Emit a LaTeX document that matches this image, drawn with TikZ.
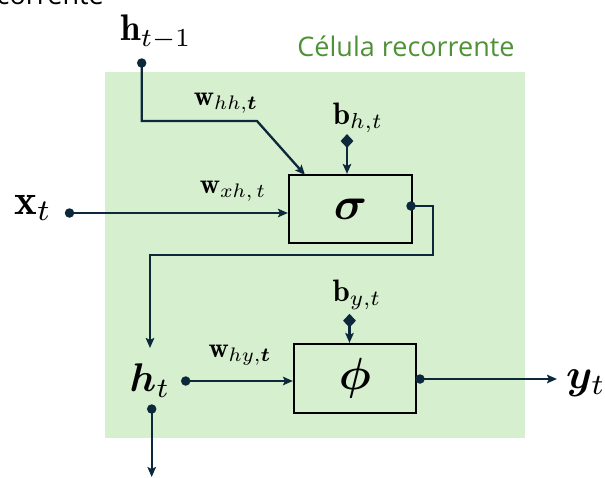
\documentclass[tikz,border=0pt]{standalone}
\usepackage{graphicx}
\usepackage{amsmath,bm}
\usepackage{fontspec}
\usetikzlibrary{arrows.meta,shapes.geometric}
\newfontfamily\titlefont{Open Sans}
\definecolor{ln}{RGB}{12,40,58}
\definecolor{cellg}{RGB}{214,239,206}
\definecolor{tg}{RGB}{78,145,55}
\tikzset{
  conn/.style={draw=ln, line width=2.3pt, -{Stealth[length=10pt,width=8.5pt,inset=2pt]}},
  dotnode/.style={circle, fill=ln, inner sep=0pt, minimum size=9.5pt},
  dmd/.style={diamond, fill=ln, inner sep=0pt, minimum width=13pt, minimum height=14pt},
  opbox/.style={draw=black, line width=2.2pt, fill=cellg, minimum width=123pt, minimum height=68pt, inner sep=0pt},
  lbl/.style={inner sep=0pt, text=black},
}
\newcommand{\fs}[1]{\fontsize{#1}{#1}\selectfont}
\newcommand{\mth}[2]{\scalebox{#1}{$#2$}}
\begin{document}
\begin{tikzpicture}[x=1pt,y=-1pt]
\useasboundingbox (0,0) rectangle (605,477);
\clip (0,0) rectangle (605,477);
% cell background
\fill[cellg] (105,72) rectangle (525,438);
\node[lbl, anchor=base, text=tg] (title) at (406,56.7) {\titlefont\fs{27}Célula recorrente};
\node[lbl, anchor=base east] (frag) at (104,4) {\titlefont\fs{27}corrente};
% boxes
\node[opbox] (sig) at (350.5,209) {\mth{4.6}{\bm{\sigma}}};
\node[opbox, minimum width=122pt, minimum height=69pt] (phi) at (355,378.5) {\mth{4.5}{\bm{\phi}}};
% labels
\node[lbl] (ht1) at (156,32) {\mth{3.7}{\mathbf{h}_{t-1}}};
\node[lbl] (xt) at (33,208) {\mth{4.3}{\mathbf{x}_{t}}};
\node[lbl] (whh) at (226,103) {\mth{2.8}{\mathbf{w}_{hh,\bm{t}}}};
\node[lbl] (wxh) at (233,191) {\mth{2.8}{\mathbf{w}_{xh,\,t}}};
\node[lbl] (why) at (240,355) {\mth{2.8}{\mathbf{w}_{hy,\bm{t}}}};
\node[lbl] (bh) at (358,118) {\mth{3.1}{\mathbf{b}_{h,t}}};
\node[lbl] (by) at (357,295) {\mth{3.1}{\mathbf{b}_{y,t}}};
\node[lbl] (ht) at (150,381) {\mth{4.0}{\bm{h}_t}};
\node[lbl] (yt) at (586,383) {\mth{4.2}{\bm{y}_t}};
% points
\coordinate (p1) at (141.7,63);
\coordinate (p2) at (69.5,213);
\coordinate (p3) at (411,206);
\coordinate (p4) at (185.7,381);
\coordinate (p5) at (151.7,409);
\coordinate (p6) at (420,379);
\coordinate (pbh) at (347,141);
\coordinate (pby) at (349.5,320.7);
\coordinate (c1) at (141.7,121);
\coordinate (c2) at (257,121);
\coordinate (t1) at (305,175);
\coordinate (c3) at (433,206);
\coordinate (c4) at (433,255);
\coordinate (c5) at (150,255);
\coordinate (t2) at (150,348);
\coordinate (t3) at (151.7,477);
\coordinate (t4) at (557,379);
% connectors
\draw[conn] (p1) -- (c1) -- (c2) -- (t1);
\draw[conn] (p2) -- (sig.west |- p2);
\draw[conn] (pbh) -- (sig.north -| pbh);
\draw[conn] (p3) -- (c3) -- (c4) -- (c5) -- (t2);
\draw[conn] (p4) -- (phi.west |- p4);
\draw[conn] (pby) -- (phi.north -| pby);
\draw[conn] (p6) -- (t4);
\draw[conn] (p5) -- (t3);
% dots and diamonds
\node[dotnode] (d1) at (p1) {};
\node[dotnode] (d2) at (p2) {};
\node[dotnode] (d3) at (p3) {};
\node[dotnode] (d4) at (p4) {};
\node[dotnode] (d5) at (p5) {};
\node[dotnode] (d6) at (p6) {};
\node[dmd] (dbh) at (pbh) {};
\node[dmd] (dby) at (pby) {};
\end{tikzpicture}
\end{document}
